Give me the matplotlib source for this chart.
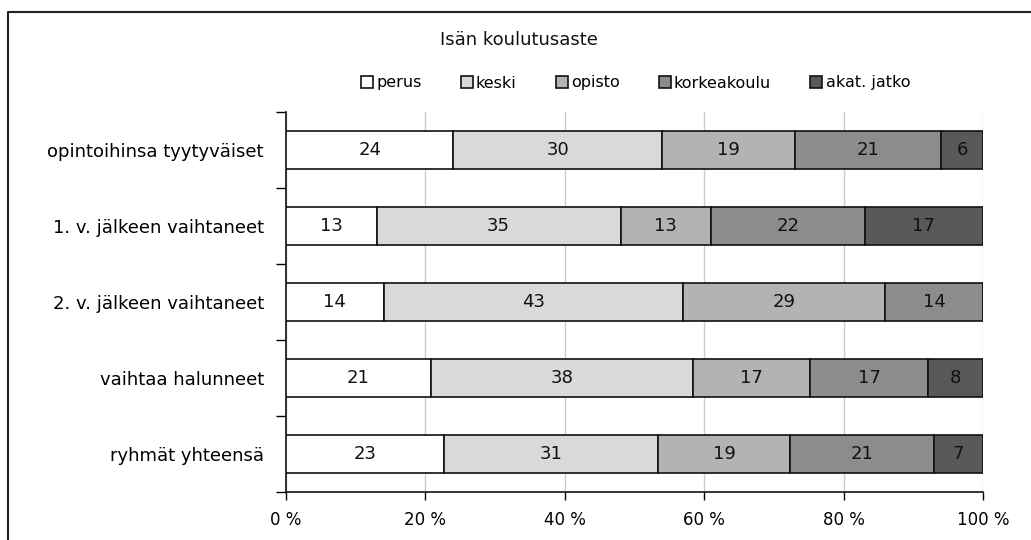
"""
Isän koulutusaste: stacked 100 % bars by student group
"""
import numpy as np
import matplotlib
matplotlib.use('Agg')
import matplotlib.pyplot as plt
from matplotlib.patches import Patch
from matplotlib.lines import Line2D

groups = ['opintoihinsa tyytyväiset', '1. v. jälkeen vaihtaneet',
          '2. v. jälkeen vaihtaneet', 'vaihtaa halunneet', 'ryhmät yhteensä']
levels = ['perus', 'keski', 'opisto', 'korkeakoulu', 'akat. jatko']
perus = [24, 13, 14, 20.8, 22.7]
keski = [30, 35, 43, 37.6, 30.7]
opisto = [19, 13, 29, 16.8, 18.9]
korkeakoulu = [21, 22, 14, 16.9, 20.7]
akat_jatko = [6, 17, 0, 7.9, 7.0]
xticks = [0, 20, 40, 60, 80, 100]

colors = ['#ffffff', '#d9d9d9', '#b3b3b3', '#8c8c8c', '#595959']
plt.rcParams['font.family'] = 'DejaVu Sans'

fig = plt.figure(figsize=(10.31, 5.40), dpi=100)
ax = fig.add_axes([286/1031, 1 - 492/540, 697/1031, 380/540])

series = [perus, keski, opisto, korkeakoulu, akat_jatko]
y = np.arange(len(groups))
left = np.zeros(len(groups))
for vals, col, name in zip(series, colors, levels):
    vals = np.array(vals, dtype=float)
    bars = ax.barh(y, vals, left=left, height=0.5, color=col,
                   edgecolor='#111111', linewidth=1.2, label=name, zorder=3)
    for b, v in zip(bars, vals):
        if v > 0:
            ax.text(b.get_x() + b.get_width()/2, b.get_y() + b.get_height()/2,
                    f'{v:.0f}', ha='center', va='center', fontsize=13,
                    color='#111111', zorder=4)
    left += vals

ax.set_xlim(0, 100)
ax.set_ylim(len(groups) - 0.5, -0.5)
ax.set_xticks(xticks)
ax.set_xticklabels([f'{t} %' for t in xticks], fontsize=12)
ax.set_yticks(y)
ax.set_yticklabels(groups, fontsize=13)
ax.tick_params(axis='y', length=0, pad=16)
ax.set_yticks(np.arange(-0.5, len(groups)), minor=True)
ax.tick_params(axis='y', which='minor', length=7, width=1, direction='out')
ax.tick_params(axis='x', length=6, width=1, pad=8)
ax.grid(axis='x', color='#cccccc', linewidth=1, zorder=0)
ax.set_axisbelow(True)
for s in ['top', 'right']:
    ax.spines[s].set_visible(False)
for s in ['left', 'bottom']:
    ax.spines[s].set_color('#111111')
    ax.spines[s].set_linewidth(1.2)

fig.text(519/1031, 1 - 40/540, 'Isän koulutusaste', ha='center', va='center',
         fontsize=13, color='#111111')

handles = [Patch(facecolor=c, edgecolor='#111111', linewidth=1.2) for c in colors]
fig.legend(handles, levels, loc='center left', bbox_to_anchor=(361/1031, 1 - 83/540),
           ncol=5, frameon=False, fontsize=11.5, handlelength=0.75, handleheight=0.75,
           handletextpad=0.2, columnspacing=2.45, borderpad=0, borderaxespad=0)

# frame around the picture (left and top edges only)
fig.add_artist(Line2D([8/1031, 8/1031, 1], [0, 1 - 12/540, 1 - 12/540],
                      transform=fig.transFigure, color='#222222', linewidth=1.5))

fig.savefig('out.png', dpi=100)
